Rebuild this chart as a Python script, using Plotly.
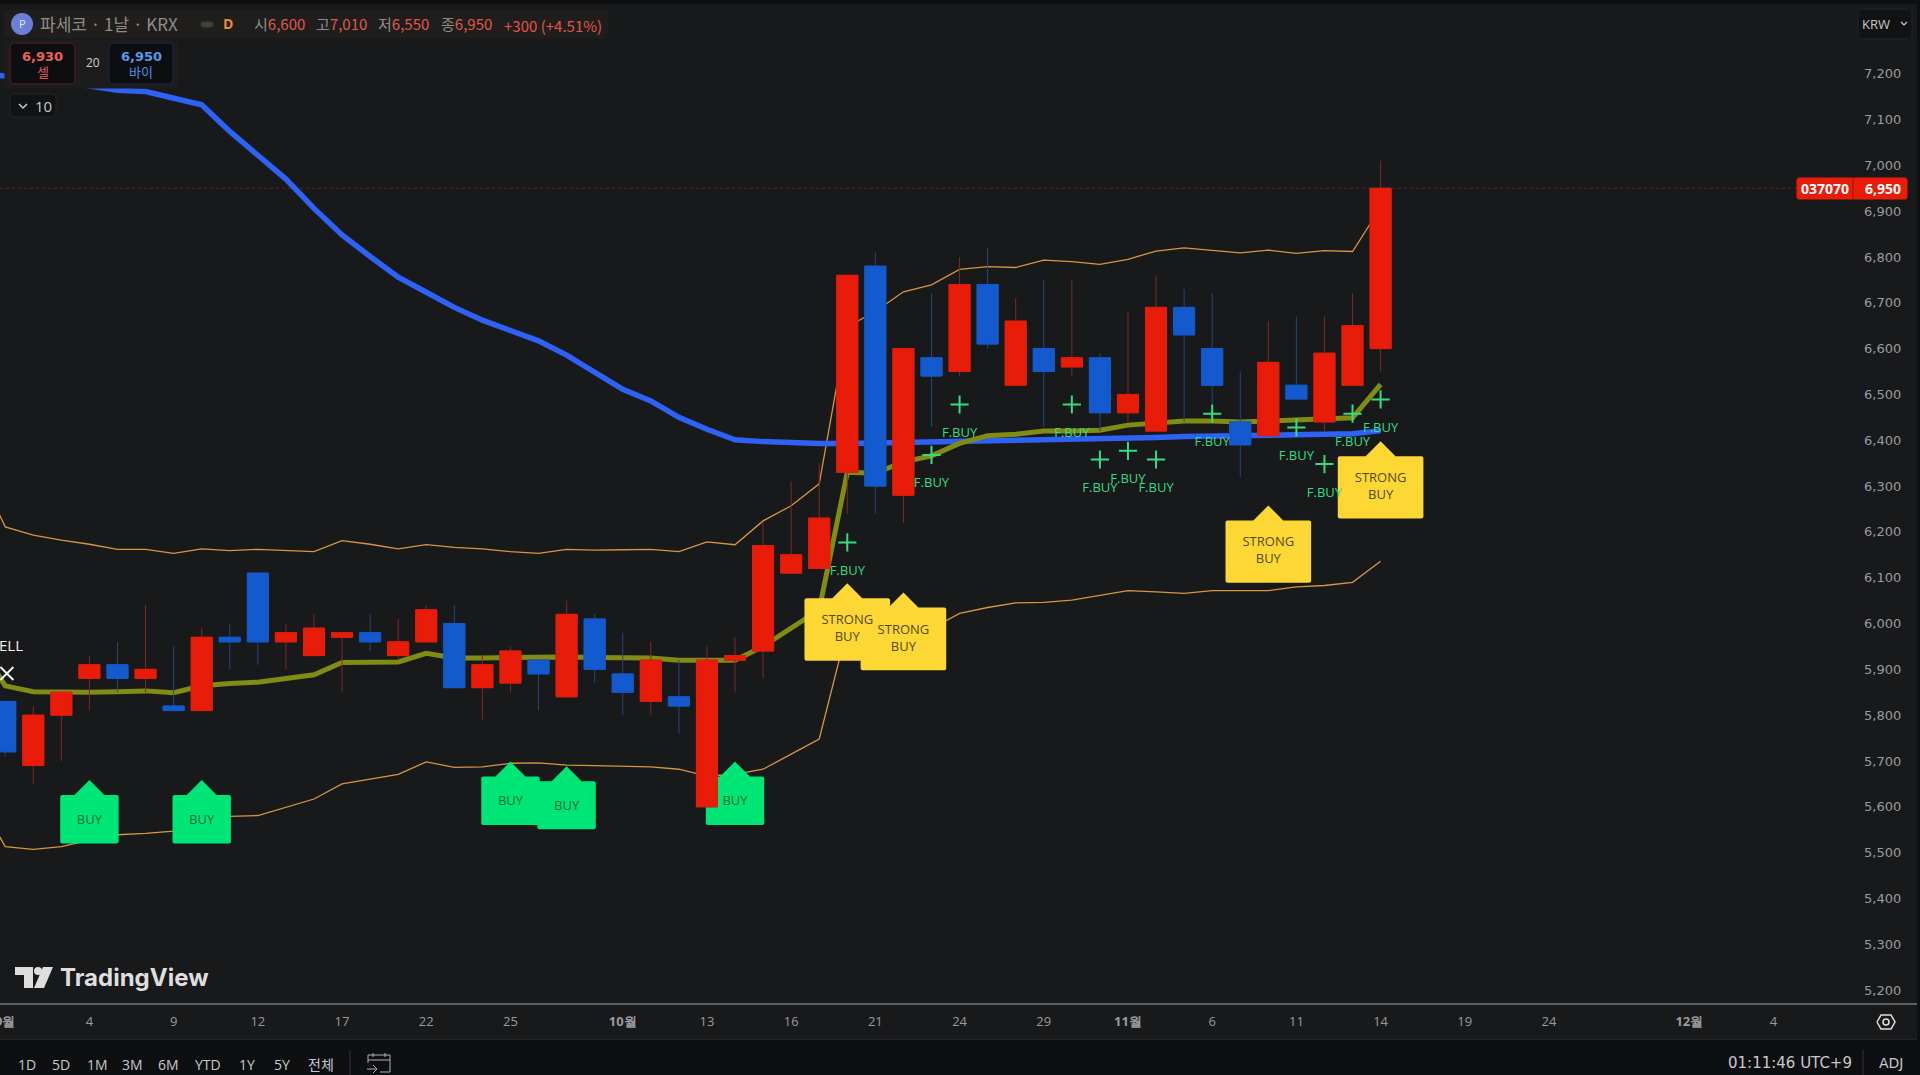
import plotly.graph_objects as go

W, H = 1920, 1075

# candles, bar positions -1 .. 48 (14 = last session)
bar_pos = list(range(-1, 49))
opens = [5830, 5690, 5800, 5880, 5910, 5880, 5820, 5810, 5970, 6110, 5960, 5930, 5970, 5980, 5930, 5960, 6000,
         5860, 5870, 5920, 5840, 6010, 5890, 5830, 5840, 5600, 5920, 5940, 6110, 6120, 6330, 6780, 6280, 6580,
         6550, 6740, 6520, 6600, 6560, 6580, 6460, 6420, 6690, 6600, 6440, 6410, 6520, 6440, 6520, 6600]
highs = [5830, 5820, 5850, 5930, 5960, 6040, 5950, 5990, 6000, 6110, 6000, 6020, 5980, 6020, 6010, 6040, 6040,
         5930, 5950, 5920, 6050, 6020, 5980, 5960, 5920, 5950, 5970, 6220, 6310, 6350, 6760, 6810, 6600, 6720,
         6800, 6820, 6710, 6750, 6750, 6590, 6680, 6760, 6730, 6720, 6550, 6660, 6670, 6670, 6720, 7010]
lows = [5710, 5650, 5700, 5810, 5850, 5850, 5810, 5810, 5900, 5910, 5900, 5930, 5850, 5940, 5920, 5960, 5860,
        5790, 5850, 5810, 5840, 5870, 5800, 5800, 5760, 5600, 5850, 5880, 6110, 6120, 6240, 6240, 6220, 6430,
        6540, 6600, 6520, 6430, 6540, 6420, 6440, 6420, 6440, 6440, 6320, 6410, 6490, 6420, 6520, 6550]
closes = [5720, 5800, 5850, 5910, 5880, 5900, 5810, 5970, 5960, 5960, 5980, 5990, 5980, 5960, 5960, 6030, 5860,
          5910, 5940, 5890, 6020, 5900, 5850, 5920, 5820, 5920, 5930, 6170, 6150, 6230, 6760, 6300, 6600, 6540,
          6740, 6610, 6660, 6550, 6580, 6460, 6500, 6690, 6630, 6520, 6390, 6570, 6490, 6590, 6650, 6950]

# indicator lines, bar positions -2 .. 48
line_pos = list(range(-2, 49))
blue_line = [7200, 7196, 7190, 7183, 7172, 7164, 7161, 7148, 7132, 7074, 7020, 6970, 6906, 6848, 6801, 6756, 6723,
             6690, 6662, 6640, 6617, 6586, 6548, 6511, 6486, 6450, 6424, 6401, 6397, 6394, 6393, 6393, 6394, 6394,
             6395, 6397, 6399, 6401, 6402, 6403, 6403, 6404, 6406, 6408, 6408, 6409, 6411, 6412, 6412, 6414, 6421]
olive_line = [5960, 5864, 5851, 5850, 5850, 5851, 5853, 5849, 5864, 5869, 5872, 5880, 5888, 5915, 5916, 5916, 5935,
              5925, 5925, 5926, 5926, 5927, 5926, 5925, 5925, 5920, 5920, 5920, 5950, 5990, 6030, 6330, 6328, 6353,
              6366, 6393, 6410, 6413, 6420, 6420, 6422, 6433, 6438, 6442, 6442, 6440, 6442, 6444, 6448, 6449, 6522]
upper_band = [6340, 6211, 6193, 6182, 6173, 6162, 6162, 6153, 6163, 6159, 6162, 6160, 6157, 6181, 6173, 6163, 6172,
              6166, 6163, 6157, 6153, 6162, 6160, 6161, 6162, 6157, 6178, 6172, 6224, 6257, 6305, 6648, 6681, 6724,
              6739, 6773, 6779, 6777, 6793, 6790, 6784, 6795, 6813, 6820, 6814, 6809, 6815, 6808, 6814, 6812, 6908]
lower_band = [5622, 5513, 5507, 5513, 5527, 5539, 5542, 5547, 5565, 5579, 5581, 5599, 5617, 5650, 5661, 5671, 5698,
              5686, 5687, 5695, 5696, 5691, 5690, 5688, 5687, 5682, 5667, 5671, 5682, 5715, 5748, 5990, 5990, 5990,
              5989, 6022, 6035, 6045, 6046, 6051, 6061, 6072, 6069, 6066, 6072, 6072, 6072, 6080, 6083, 6090, 6136]

# signals
buy_pos = [2, 6, 17, 19, 25]
buy_top = [5626, 5626, 5666, 5656, 5666]
buy_bottom = [5520, 5520, 5560, 5551, 5560]
strong_pos = [29, 31, 44, 48]
strong_top = [6055, 6035, 6225, 6365]
strong_bottom = [5919, 5898, 6089, 6229]
fbuy_pos = [29, 32, 33, 37, 38, 39, 40, 42, 45, 46, 47, 48]
fbuy_price = [6177, 6368, 6478, 6478, 6358, 6377, 6358, 6458, 6428, 6348, 6458, 6489]
sell_pos = [-0.94]
sell_price = [5891]

price_ticks = [5200, 5300, 5400, 5500, 5600, 5700, 5800, 5900, 6000, 6100, 6200, 6300, 6400, 6500, 6600, 6700, 6800,
               6900, 7000, 7100, 7200]
time_tick_pos = [-1, 2, 5, 8, 11, 14, 17, 21, 24, 27, 30, 33, 36, 39, 42, 45, 48, 51, 54, 59, 62]
time_tick_text = ["<b>9월</b>", "4", "9", "12", "17", "22", "25", "<b>10월</b>", "13", "16", "21", "24", "29",
                  "<b>11월</b>", "6", "11", "14", "19", "24", "<b>12월</b>", "4"]
range_buttons = ["1D", "5D", "1M", "3M", "6M", "YTD", "1Y", "5Y", "전체"]
range_button_x = [27, 61, 97, 132, 168, 208, 247, 282, 321]
last_close = 6950

BG = "#18191b"
DARK = "#0e0f11"
RED = "#e81c08"
BLUE = "#125acd"
GREEN = "#00e676"
YELLOW = "#fdd835"
LIME = "#33dd80"
UI_FONT = "Open Sans"
KR_FONT = "Noto Sans CJK KR"


def px(x):
    return x / W


def py(y):
    return 1 - y / H


def rrect(x0, y0, x1, y1, r, fill, line=None):
    # rounded box in page pixels
    p = (f"M{px(x0 + r)},{py(y0)} L{px(x1 - r)},{py(y0)} Q{px(x1)},{py(y0)} {px(x1)},{py(y0 + r)} "
         f"L{px(x1)},{py(y1 - r)} Q{px(x1)},{py(y1)} {px(x1 - r)},{py(y1)} L{px(x0 + r)},{py(y1)} "
         f"Q{px(x0)},{py(y1)} {px(x0)},{py(y1 - r)} L{px(x0)},{py(y0 + r)} Q{px(x0)},{py(y0)} {px(x0 + r)},{py(y0)} Z")
    return dict(type="path", xref="paper", yref="paper", path=p, fillcolor=fill,
                line=dict(color=line or fill, width=1), layer="above")


def poly(points, fill=None, line=None, width=1):
    p = "M" + " L".join(f"{px(a)},{py(b)}" for a, b in points)
    if fill:
        p += " Z"
    return dict(type="path", xref="paper", yref="paper", path=p, fillcolor=fill or "rgba(0,0,0,0)",
                line=dict(color=line or fill, width=width if line else 0), layer="above")


def label(x, y, text, size=13, color="#c8c9cb", anchor="center", family=UI_FONT):
    return dict(xref="paper", yref="paper", x=px(x), y=py(y), text=text, showarrow=False, xanchor=anchor,
                yanchor="middle", font=dict(size=size, color=color, family=family))


fig = go.Figure()

for values, color, width in [(upper_band, "#d9953f", 1.3), (lower_band, "#d9953f", 1.3),
                             (blue_line, "#2e62f5", 5.5), (olive_line, "#808c14", 5)]:
    fig.add_trace(go.Scatter(x=line_pos, y=values, mode="lines", line=dict(color=color, width=width),
                             hoverinfo="skip", zorder=0))

# signal boxes sit under the candles
for pos, top, bottom, color, box_w in [(buy_pos, buy_top, buy_bottom, GREEN, 2.08),
                                       (strong_pos, strong_top, strong_bottom, YELLOW, 3.05)]:
    for p, t, b in zip(pos, top, bottom):
        fig.add_trace(go.Bar(x=[p], y=[t - b], base=[b], width=[box_w], marker=dict(color=color, cornerradius=2, line_width=0),
                             hoverinfo="skip", zorder=1))
        fig.add_trace(go.Scatter(x=[p], y=[t], mode="markers", hoverinfo="skip", zorder=1,
                                 marker=dict(symbol="diamond", size=23, color=color, line_width=0)))

# wicks are a dimmer colour than the bodies, so two candlestick traces
fig.add_trace(go.Candlestick(x=bar_pos, open=opens, high=highs, low=lows, close=closes, whiskerwidth=0, zorder=2,
                             hoverinfo="skip",
                             increasing=dict(line=dict(color="#7c2b22", width=1), fillcolor=RED),
                             decreasing=dict(line=dict(color="#26467e", width=1), fillcolor=BLUE)))
fig.add_trace(go.Candlestick(x=bar_pos, open=opens, close=closes, zorder=2, hoverinfo="skip", whiskerwidth=0,
                             high=[max(o, c) for o, c in zip(opens, closes)],
                             low=[min(o, c) for o, c in zip(opens, closes)],
                             increasing=dict(line=dict(color=RED, width=1), fillcolor=RED),
                             decreasing=dict(line=dict(color=BLUE, width=1), fillcolor=BLUE)))

fig.add_trace(go.Scatter(x=buy_pos, y=[(t + b) / 2 - 3 for t, b in zip(buy_top, buy_bottom)], mode="text", text=["BUY"] * len(buy_pos),
                         textfont=dict(family=UI_FONT, size=13, color="#0f6b3a"), hoverinfo="skip", zorder=3))
fig.add_trace(go.Scatter(x=strong_pos, y=[(t + b) / 2 for t, b in zip(strong_top, strong_bottom)], mode="text",
                         text=["STRONG<br>BUY"] * len(strong_pos),
                         textfont=dict(family=UI_FONT, size=13, color="#564a1a"), hoverinfo="skip", zorder=3))
fig.add_trace(go.Scatter(x=fbuy_pos, y=fbuy_price, mode="markers", hoverinfo="skip", zorder=3,
                         marker=dict(symbol="cross-thin", size=13, line=dict(color=LIME, width=2))))
fig.add_trace(go.Scatter(x=fbuy_pos, y=[v - 64 for v in fbuy_price], mode="text", text=["F.BUY"] * len(fbuy_pos),
                         textfont=dict(family=UI_FONT, size=13, color=LIME), hoverinfo="skip", zorder=3))
fig.add_trace(go.Scatter(x=sell_pos, y=sell_price, mode="markers", hoverinfo="skip", zorder=3,
                         marker=dict(symbol="x-thin", size=13, line=dict(color="#f2f2f2", width=2))))
fig.add_trace(go.Scatter(x=sell_pos, y=[v + 58 for v in sell_price], mode="text", text=["SELL"],
                         textfont=dict(family=UI_FONT, size=15, color="#f2f2f2"), hoverinfo="skip", zorder=3))

shapes = [
    dict(type="line", xref="paper", yref="y", x0=0, x1=px(1853), y0=last_close, y1=last_close, layer="below",
         line=dict(color="#6d2018", width=1, dash="dot")),
    dict(type="rect", xref="paper", yref="paper", x0=0, x1=1, y0=py(4), y1=1, fillcolor=DARK, line_width=0, layer="below"),
    dict(type="rect", xref="paper", yref="paper", x0=0, x1=1, y0=0, y1=py(1040), fillcolor=DARK, line_width=0, layer="below"),
    dict(type="rect", xref="paper", yref="paper", x0=px(1917), x1=1, y0=0, y1=1, fillcolor=DARK, line_width=0, layer="below"),
    dict(type="line", xref="paper", yref="paper", x0=0, x1=px(1917), y0=py(1004), y1=py(1004), line=dict(color="#5f6062", width=2)),
    dict(type="line", xref="paper", yref="paper", x0=0, x1=px(1917), y0=py(1039.5), y1=py(1039.5), line=dict(color="#232426", width=1)),
    dict(type="line", xref="paper", yref="paper", x0=px(350), x1=px(350), y0=py(1050), y1=py(1075), line=dict(color="#343537", width=1)),
    dict(type="line", xref="paper", yref="paper", x0=px(1863), x1=px(1863), y0=py(1050), y1=py(1075), line=dict(color="#343537", width=1)),
    # legend chips
    rrect(5, 10, 608, 38, 3, "#1f1e1d"),
    rrect(5, 40, 178, 88, 3, "#1c1c1d"),
    rrect(10, 43, 75, 84, 5, "#0d0e10", "#5a1a22"),
    rrect(109, 43, 173, 84, 5, "#0d0e10", "#182a55"),
    rrect(10, 94, 56, 117, 4, "#111214", "#242527"),
    poly([(19, 104), (23, 108), (27, 104)], line="#c8c9cb", width=1.5),
    rrect(201, 22, 213, 27, 2.5, "#3f3f3d"),
    dict(type="circle", xref="paper", yref="paper", x0=px(11), x1=px(33), y0=py(13), y1=py(35), fillcolor="#6b7fd6", line_width=0, layer="above"),
    # KRW button
    rrect(1858, 9, 1912, 39, 5, "#111214", "#232426"),
    poly([(1901, 22), (1904, 25), (1907, 22)], line="#c8c9cb", width=1.2),
    # last price tag
    rrect(1797, 178, 1907, 199, 2, RED),
    dict(type="line", xref="paper", yref="paper", x0=px(1853), x1=px(1853), y0=py(178), y1=py(199), line=dict(color="#a31408", width=1)),
    # settings hexagon
    poly([(1877, 1022), (1881, 1015), (1891, 1015), (1895, 1022), (1891, 1029), (1881, 1029), (1877, 1022)], line="#e0e0e0", width=1.5),
    dict(type="circle", xref="paper", yref="paper", x0=px(1883), x1=px(1889), y0=py(1019), y1=py(1025), line=dict(color="#e0e0e0", width=1.5), layer="above"),
    # calendar icon
    poly([(368, 1063), (368, 1055), (390, 1055), (390, 1072), (380, 1072)], line="#b0b1b3"),
    poly([(368, 1060), (390, 1060)], line="#b0b1b3"),
    poly([(373, 1053), (373, 1057)], line="#b0b1b3"),
    poly([(385, 1053), (385, 1057)], line="#b0b1b3"),
    poly([(367, 1069), (377, 1069)], line="#b0b1b3"),
    poly([(373, 1065), (377, 1069), (373, 1073)], line="#b0b1b3"),
    # TradingView mark
    poly([(15, 967), (33, 967), (33, 988), (24, 988), (24, 975), (15, 975)], fill="#dedede"),
    poly([(43, 967), (53, 967), (44, 988), (34, 988)], fill="#dedede"),
    dict(type="circle", xref="paper", yref="paper", x0=px(34), x1=px(42), y0=py(967), y1=py(975), fillcolor="#dedede", line_width=0, layer="above"),
]

RED_TXT = "#e2574a"
GREY_TXT = "#8e8c8a"
annotations = [
    label(22, 24, "P", 11, "#dfe3f7"),
    label(38, 24, "파세코 · 1날 · KRX", 17, GREY_TXT, "left", KR_FONT),
    label(228, 24, "<b>D</b>", 14, "#f08c2e"),
    label(252, 24, f'시<span style="color:{RED_TXT}">6,600</span>', 15, GREY_TXT, "left", KR_FONT),
    label(314, 24, f'고<span style="color:{RED_TXT}">7,010</span>', 15, GREY_TXT, "left", KR_FONT),
    label(376, 24, f'저<span style="color:{RED_TXT}">6,550</span>', 15, GREY_TXT, "left", KR_FONT),
    label(439, 24, f'종<span style="color:{RED_TXT}">6,950</span>', 15, GREY_TXT, "left", KR_FONT),
    label(502, 25, "+300 (+4.51%)", 15, RED_TXT, "left", KR_FONT),
    label(42.5, 56, "<b>6,930</b>", 13, "#f0605c", family="DejaVu Sans"),
    label(42.5, 72, "셀", 13, "#e0565a", family=KR_FONT),
    label(92.5, 63, "20", 12, "#d0d0d0"),
    label(141, 56, "<b>6,950</b>", 13, "#5599f0", family="DejaVu Sans"),
    label(141, 72, "바이", 13, "#4f8fe8", family=KR_FONT),
    label(43, 106, "10", 15, "#c8c9cb"),
    label(1876, 24, "KRW", 13, "#c8c9cb"),
    label(1825, 188.5, "<b>037070</b>", 14, "#ffffff"),
    label(1883, 188.5, "<b>6,950</b>", 14, "#ffffff"),
    label(134.5, 977, "<b>TradingView</b>", 24, "#dedede", family="Inter"),
    label(1790, 1063, "01:11:46 UTC+9", 15, "#c8c9cb", family="DejaVu Sans"),
    label(1891, 1063, "ADJ", 14, "#c8c9cb", family="DejaVu Sans"),
]
for name, x in zip(range_buttons, range_button_x):
    annotations.append(label(x, 1064, name, 14, "#c8c9cb", family=KR_FONT if name == "전체" else UI_FONT))

fig.update_layout(
    width=W, height=H, margin=dict(l=0, r=0, t=0, b=0, autoexpand=False), autosize=False,
    paper_bgcolor=BG, plot_bgcolor=BG, showlegend=False, barmode="overlay", boxgap=0.25, boxgroupgap=0,
    font=dict(family=UI_FONT),
    shapes=shapes, annotations=annotations,
    xaxis=dict(domain=[0, px(1853)], range=[-1.186, 64.83], showgrid=False, zeroline=False, showline=False,
               rangeslider=dict(visible=False), tickmode="array", tickvals=time_tick_pos, ticktext=time_tick_text,
               tickfont=dict(family=UI_FONT, size=13, color="#9a9b9d"), ticks="", ticklabeloverflow="allow",
               ticklabelstandoff=8, tickangle=0, anchor="y"),
    yaxis=dict(domain=[py(1004), py(14)], range=[5169.6, 7330.3], side="right", showgrid=False, zeroline=False,
               showline=False, tickmode="array", tickvals=price_ticks, ticktext=[f"{v:,}" for v in price_ticks],
               tickfont=dict(family="DejaVu Sans", size=13, color="#9a9b9d"), ticks="", ticklabelstandoff=10, anchor="x"),
)

fig.write_html("out.html", config=dict(displayModeBar=False),
               post_script="document.documentElement.style.background='#18191b';document.body.style.margin='0';document.body.style.overflow='hidden';")
